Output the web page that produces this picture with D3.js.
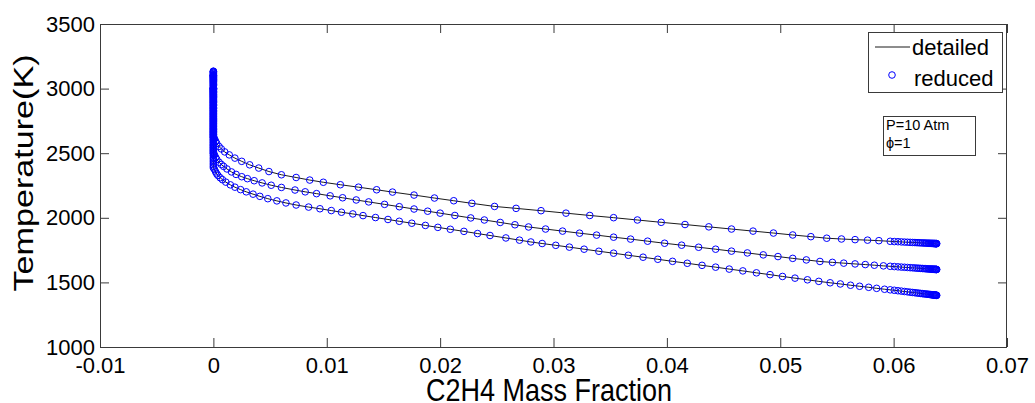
<!DOCTYPE html>
<html>
<head>
<meta charset="utf-8">
<script src="https://cdn.jsdelivr.net/npm/d3@7"></script>
<style>
  html, body { margin: 0; padding: 0; background: #fff; }
  svg { display: block; font-family: "Liberation Sans", Arial, sans-serif; }
</style>
</head>
<body>
<svg id="chart" width="1035" height="403"></svg>
<script>
// Axis ticks
const xTicks = [-0.01, 0, 0.01, 0.02, 0.03, 0.04, 0.05, 0.06, 0.07];
const xTickLabels = ["-0.01", "0", "0.01", "0.02", "0.03", "0.04", "0.05", "0.06", "0.07"];
const yTicks = [1000, 1500, 2000, 2500, 3000, 3500];
const yTickLabels = ["1000", "1500", "2000", "2500", "3000", "3500"];

// Initial temperature 1800 K: C2H4 mass fraction and temperature
const massTop = [0.0638, 0.06378, 0.06375, 0.06372, 0.06368, 0.06364, 0.0636, 0.06355, 0.0635, 0.06344,
  0.06338, 0.06331, 0.06323, 0.06314, 0.06304, 0.06293, 0.06281, 0.06268, 0.06254, 0.06239,
  0.06223, 0.06206, 0.06188, 0.06168, 0.06146, 0.06122, 0.06096, 0.06068, 0.06038, 0.06006,
  0.0597, 0.0587, 0.0577, 0.0566, 0.0554, 0.0541, 0.0527, 0.0511, 0.0494,
  0.0476, 0.0457, 0.0437, 0.0416, 0.0395, 0.0374, 0.0353, 0.0332, 0.0311, 0.0289,
  0.0267, 0.0248, 0.0228, 0.0212, 0.0195, 0.0177, 0.0158, 0.0144, 0.0128, 0.0112,
  0.0097, 0.0085, 0.0073, 0.0060, 0.0049, 0.0040, 0.0032, 0.0025, 0.0019, 0.0014,
  0.0010, 0.0007, 0.0005, 0.0003, 0.0002, 0.0001];
const tempTop = [1800, 1800, 1800, 1800, 1800.5, 1800.7, 1801, 1801, 1801.3, 1801.6,
  1802, 1802, 1802.5, 1803, 1803.3, 1804, 1804.3, 1805, 1805.5, 1806,
  1807, 1807.6, 1808.4, 1809, 1810, 1811, 1812, 1813.5, 1815, 1816,
  1818, 1823, 1827, 1831, 1836, 1842, 1854, 1867, 1882,
  1897, 1913, 1930, 1948, 1965, 1983, 2001, 2018, 2036, 2055,
  2073, 2088, 2112, 2132, 2153, 2176, 2199, 2217, 2237, 2256,
  2275, 2292, 2312, 2333, 2358, 2385, 2410, 2437, 2462, 2487,
  2510, 2533, 2552, 2575, 2592, 2612];
// temperatures once the fuel is fully consumed (mass fraction 0)
const flameTop = [2624, 2636, 2648, 2661, 2673, 2685, 2697, 2710, 2722, 2734,
  2747, 2759, 2771, 2783, 2796, 2808, 2820, 2833, 2845, 2857,
  2869, 2882, 2894, 2906, 2918, 2930, 2942, 2954, 2966, 2978,
  2989, 3000, 3011, 3022, 3033, 3043, 3053, 3062, 3071, 3080,
  3088, 3096, 3103, 3110, 3116, 3121, 3126, 3130, 3133, 3135];

// Initial temperature 1600 K
const massMid = [0.0638, 0.06378, 0.06375, 0.06372, 0.06368, 0.06364, 0.0636, 0.06355, 0.0635, 0.06344,
  0.06338, 0.06331, 0.06323, 0.06314, 0.06304, 0.06293, 0.06281, 0.06268, 0.06254, 0.06239,
  0.06223, 0.06206, 0.06188, 0.06168, 0.06146, 0.06122, 0.06096, 0.06068, 0.06038, 0.06006,
  0.0597, 0.0591, 0.0583, 0.0575, 0.0566, 0.0556, 0.0546,
  0.0535, 0.0523, 0.0511, 0.0498, 0.0485, 0.0471, 0.0457, 0.0443, 0.0428, 0.0413,
  0.0398, 0.0383, 0.0368, 0.0353, 0.0338, 0.0323, 0.0308, 0.0293, 0.0278, 0.0266,
  0.0253, 0.0239, 0.0227, 0.0213, 0.0200, 0.0189, 0.0177, 0.0164, 0.0151, 0.0137,
  0.0126, 0.0114, 0.0103, 0.0091, 0.0081, 0.0072, 0.0060, 0.0051, 0.0043, 0.0036,
  0.0030, 0.0025, 0.0020, 0.0016, 0.0012, 0.0009, 0.0007, 0.0005, 0.0003, 0.0002, 0.0001];
const tempMid = [1600, 1600, 1600.2, 1600.5, 1600.7, 1601, 1601, 1601.5, 1602, 1602,
  1602.5, 1603, 1603.5, 1604, 1604.5, 1605, 1606, 1607, 1607.5, 1608.5,
  1609.5, 1610.5, 1611.5, 1613, 1614, 1615.5, 1617, 1618.5, 1620.5, 1622.5,
  1624.5, 1628, 1633, 1638, 1643, 1649, 1655,
  1662, 1674, 1686, 1700, 1713, 1728, 1742, 1757, 1772, 1788,
  1803, 1819, 1835, 1850, 1866, 1881, 1897, 1913, 1929, 1946,
  1964, 1983, 1999, 2018, 2036, 2051, 2068, 2086, 2104, 2123,
  2138, 2155, 2170, 2187, 2201, 2215, 2235, 2252, 2270, 2287,
  2303, 2318, 2336, 2355, 2378, 2398, 2413, 2430, 2452, 2467, 2487];
const flameMid = [2499, 2511, 2523, 2535, 2547, 2559, 2571, 2584, 2596, 2608,
  2620, 2633, 2645, 2657, 2669, 2682, 2694, 2706, 2718, 2731,
  2743, 2755, 2767, 2780, 2792, 2804, 2816, 2829, 2841, 2853,
  2865, 2877, 2889, 2901, 2913, 2925, 2937, 2948, 2959, 2970,
  2981, 2992, 3002, 3012, 3022, 3031, 3040, 3048, 3056, 3064,
  3071, 3077, 3083, 3088, 3093, 3097, 3100, 3103, 3105];

// Initial temperature 1400 K
const massBot = [0.0638, 0.06378, 0.06375, 0.06372, 0.06368, 0.06364, 0.0636, 0.06355, 0.0635, 0.06344,
  0.06338, 0.06331, 0.06323, 0.06314, 0.06304, 0.06293, 0.06281, 0.06268, 0.06254, 0.06239,
  0.06223, 0.06206, 0.06188, 0.06168, 0.06146, 0.06122, 0.06096, 0.06068, 0.06038, 0.06006,
  0.0597, 0.0592, 0.0585, 0.0578, 0.0570, 0.0562,
  0.0553, 0.0544, 0.0534, 0.0524, 0.0513, 0.0502, 0.0491, 0.0479, 0.0467, 0.0455,
  0.0443, 0.0431, 0.0418, 0.0405, 0.0392, 0.0379, 0.0366, 0.0353, 0.0340, 0.0327,
  0.0314, 0.0302, 0.0290, 0.0280, 0.0270, 0.0258, 0.0244, 0.0233, 0.0221, 0.0209,
  0.0198, 0.0187, 0.0175, 0.0164, 0.0154, 0.0143, 0.0132, 0.0123, 0.0113, 0.0104,
  0.0094, 0.0084, 0.0073, 0.0064, 0.0056, 0.0048, 0.0041, 0.0035, 0.0029, 0.0024,
  0.0019, 0.0015, 0.0011, 0.0008, 0.0006, 0.0004, 0.0003, 0.0002, 0.0001];
const tempBot = [1400, 1400.2, 1400.5, 1401, 1401, 1401.5, 1402, 1402.5, 1403, 1403.5,
  1404.5, 1405, 1406, 1407, 1408, 1409, 1410.5, 1411.5, 1413, 1414.5,
  1416.5, 1418, 1420, 1422, 1424, 1427, 1429.5, 1432.5, 1435.5, 1439,
  1442.5, 1447, 1454, 1462, 1470, 1478,
  1488, 1497, 1508, 1520, 1533, 1546, 1560, 1574, 1589, 1603,
  1618, 1632, 1648, 1663, 1679, 1695, 1710, 1726, 1741, 1757,
  1773, 1787, 1801, 1813, 1827, 1844, 1863, 1878, 1895, 1911,
  1926, 1941, 1958, 1973, 1987, 2002, 2017, 2030, 2043, 2056,
  2070, 2083, 2099, 2115, 2131, 2148, 2166, 2183, 2201, 2218,
  2237, 2255, 2276, 2295, 2310, 2328, 2340, 2355, 2374];
const flameBot = [2386, 2398, 2410, 2422, 2434, 2446, 2458, 2470, 2483, 2495,
  2507, 2519, 2531, 2544, 2556, 2568, 2580, 2593, 2605, 2617,
  2629, 2642, 2654, 2666, 2678, 2691, 2703, 2715, 2727, 2739,
  2751, 2763, 2775, 2787, 2799, 2811, 2823, 2834, 2846, 2857,
  2868, 2879, 2890, 2900, 2910, 2920, 2930, 2939, 2948, 2956,
  2964, 2971, 2978, 2984, 2990, 2995, 2999, 3002, 3004];

const legendLabels = ["detailed", "reduced"];
const noteLines = ["P=10 Atm", "\u03D5=1"];

// Build point lists for each case: the consumption path followed by the burnt state
function buildSeries(mass, temp, flame) {
  const pts = mass.map((m, i) => ({ x: m, t: temp[i] }));
  flame.forEach(t => pts.push({ x: 0, t: t }));
  return pts;
}
const series = [
  buildSeries(massTop, tempTop, flameTop),
  buildSeries(massMid, tempMid, flameMid),
  buildSeries(massBot, tempBot, flameBot)
];

const svg = d3.select("#chart");
const plotLeft = 100, plotRight = 1007, plotTop = 24, plotBottom = 347;
const x = d3.scaleLinear().domain([-0.01, 0.07]).range([plotLeft, plotRight]);
const y = d3.scaleLinear().domain([1000, 3500]).range([plotBottom, plotTop]);

const axisColor = "#3a3a3a";
const tickFont = "22px";

// Axes with inward ticks
const gx = svg.append("g").attr("transform", `translate(0,${plotBottom})`)
  .call(d3.axisBottom(x).tickValues(xTicks).tickSizeInner(-9).tickSizeOuter(0)
    .tickPadding(10).tickFormat((d, i) => xTickLabels[i]));
const gy = svg.append("g").attr("transform", `translate(${plotLeft},0)`)
  .call(d3.axisLeft(y).tickValues(yTicks).tickSizeInner(-9).tickSizeOuter(0)
    .tickPadding(5).tickFormat((d, i) => yTickLabels[i]));
const gxTop = svg.append("g").attr("transform", `translate(0,${plotTop})`)
  .call(d3.axisTop(x).tickValues(xTicks).tickSizeInner(-9).tickSizeOuter(0).tickFormat(""));
const gyRight = svg.append("g").attr("transform", `translate(${plotRight},0)`)
  .call(d3.axisRight(y).tickValues(yTicks).tickSizeInner(-9).tickSizeOuter(0).tickFormat(""));

[gx, gy, gxTop, gyRight].forEach(g => {
  g.select(".domain").remove();
  g.selectAll(".tick line").attr("stroke", axisColor);
  g.selectAll(".tick text").attr("fill", "#000").style("font-size", tickFont)
    .style("font-family", "'Liberation Sans', Arial, sans-serif");
});

// Axes box
svg.append("rect")
  .attr("x", plotLeft + 0.5).attr("y", plotTop + 0.5)
  .attr("width", plotRight - plotLeft - 1).attr("height", plotBottom - plotTop)
  .attr("fill", "none").attr("stroke", axisColor).attr("stroke-width", 1);

// Detailed mechanism: solid lines
const line = d3.line().x(d => x(d.x)).y(d => y(d.t));
svg.append("g").selectAll("path").data(series).join("path")
  .attr("d", line).attr("fill", "none").attr("stroke", "#000").attr("stroke-width", 0.9);

// Reduced mechanism: open circles
svg.append("g").selectAll("g").data(series).join("g")
  .selectAll("circle").data(d => d).join("circle")
  .attr("cx", d => x(d.x)).attr("cy", d => y(d.t)).attr("r", 3.3)
  .attr("fill", "none").attr("stroke", "#0000ff").attr("stroke-width", 1);

// Axis titles (set in a slightly tall type)
svg.append("text").attr("transform", "translate(549,401) scale(1,1.15)")
  .attr("text-anchor", "middle").style("font-size", "27px").text("C2H4 Mass Fraction");
svg.append("text").attr("transform", "translate(33,173) rotate(-90) scale(1.22,1)")
  .attr("text-anchor", "middle").style("font-size", "28px").text("Temperature(K)");

// Legend
const lg = svg.append("g");
lg.append("rect").attr("x", 868.5).attr("y", 32.5).attr("width", 134).attr("height", 60)
  .attr("fill", "#fff").attr("stroke", axisColor);
lg.append("line").attr("x1", 875).attr("x2", 910).attr("y1", 47).attr("y2", 47)
  .attr("stroke", "#000").attr("stroke-width", 0.9);
lg.append("text").attr("x", 912).attr("y", 55).style("font-size", "22px").text(legendLabels[0]);
lg.append("circle").attr("cx", 892).attr("cy", 75).attr("r", 3.3)
  .attr("fill", "none").attr("stroke", "#0000ff");
lg.append("text").attr("x", 914).attr("y", 86).style("font-size", "22px").text(legendLabels[1]);

// Operating conditions box
const nb = svg.append("g");
nb.append("rect").attr("x", 883.5).attr("y", 116.5).attr("width", 92).attr("height", 39)
  .attr("fill", "#fff").attr("stroke", axisColor);
noteLines.forEach((s, i) => {
  nb.append("text").attr("x", 886).attr("y", 130 + i * 18).style("font-size", "14.5px").text(s);
});
</script>
</body>
</html>
